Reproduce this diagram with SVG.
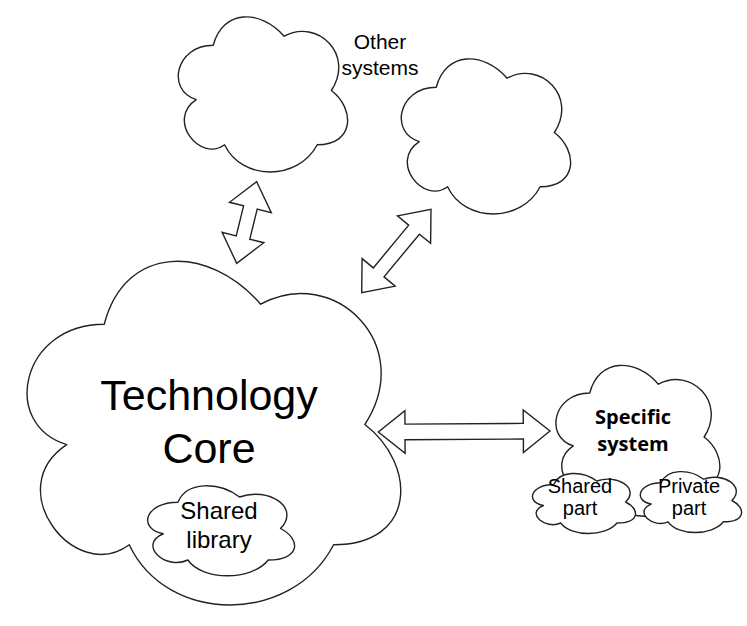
<svg xmlns="http://www.w3.org/2000/svg" width="747" height="626" viewBox="0 0 747 626">
<style>
.cloud{fill:#fff;stroke:#222;stroke-width:1.4;stroke-linejoin:round}
.arrow{fill:#fff;stroke:#222;stroke-width:1.4;stroke-linejoin:miter}
.t{font-family:"Liberation Sans",Arial,sans-serif;fill:#000;text-anchor:middle}
.b{font-family:"Open Sans","Noto Sans",sans-serif;font-weight:bold;fill:#000;text-anchor:middle}
</style>
<rect width="747" height="626" fill="#fff"/>
<g id="core">
<path class="cloud" d="M104.25 324.25 C20.85 324.25 0 424.5 66.72 444.55 C0 488.66 75.06 584.9 129.27 544.8 C166.8 625 291.9 625 333.6 544.8 C417 544.8 417 464.6 364.88 424.5 C417 344.3 333.6 264.1 260.63 304.2 C208.5 244.05 125.1 244.05 104.25 324.25 Z"/>
<text class="t" x="209" y="410" font-size="43">Technology</text>
<text class="t" x="209" y="463" font-size="43">Core</text>
</g>
<g id="shared-library">
<path class="cloud" d="M178 502.25 C145.2 502.25 137 528.5 163.24 533.75 C137 545.3 166.52 570.5 187.84 560 C202.6 581 251.8 581 268.2 560 C301 560 301 539 280.5 528.5 C301 507.5 268.2 486.5 239.5 497 C219 481.25 186.2 481.25 178 502.25 Z"/>
<text class="t" x="219" y="519" font-size="24">Shared</text>
<text class="t" x="219" y="548" font-size="24">library</text>
</g>
<g id="other-system-1">
<path class="cloud" d="M213.25 45.25 C175.45 45.25 166 90.5 196.24 99.55 C166 119.46 200.02 162.9 224.59 144.8 C241.6 181 298.3 181 317.2 144.8 C355 144.8 355 108.6 331.38 90.5 C355 54.3 317.2 18.1 284.13 36.2 C260.5 9.05 222.7 9.05 213.25 45.25 Z"/>
</g>
<g id="other-system-2">
<path class="cloud" d="M436.25 87.25 C398.45 87.25 389 132.5 419.24 141.55 C389 161.46 423.02 204.9 447.59 186.8 C464.6 223 521.3 223 540.2 186.8 C578 186.8 578 150.6 554.38 132.5 C578 96.3 540.2 60.1 507.13 78.2 C483.5 51.05 445.7 51.05 436.25 87.25 Z"/>
</g>
<g id="other-systems-label">
<text class="t" x="380" y="49" font-size="21">Other</text>
<text class="t" x="380" y="75" font-size="21">systems</text>
</g>
<g id="specific-system">
<path class="cloud" d="M589.75 393 C553.15 393 544 437 573.28 445.8 C544 465.16 576.94 507.4 600.73 489.8 C617.2 525 672.1 525 690.4 489.8 C727 489.8 727 454.6 704.13 437 C727 401.8 690.4 366.6 658.38 384.2 C635.5 357.8 598.9 357.8 589.75 393 Z"/>
<text class="b" x="633" y="424" font-size="20">Specific</text>
<text class="b" x="633" y="451" font-size="20">system</text>
</g>
<g id="shared-part">
<path class="cloud" d="M553.75 484.5 C530.75 484.5 525 502 543.4 505.5 C525 513.2 545.7 530 560.65 523 C571 537 605.5 537 617 523 C640 523 640 509 625.63 502 C640 488 617 474 596.88 481 C582.5 470.5 559.5 470.5 553.75 484.5 Z"/>
<text class="t" x="580" y="493" font-size="20">Shared</text>
<text class="t" x="580" y="515" font-size="20">part</text>
</g>
<g id="private-part">
<path class="cloud" d="M663.25 482.75 C640.65 482.75 635 500.5 653.08 504.05 C635 511.86 655.34 528.9 670.03 521.8 C680.2 536 714.1 536 725.4 521.8 C748 521.8 748 507.6 733.88 500.5 C748 486.3 725.4 472.1 705.63 479.2 C691.5 468.55 668.9 468.55 663.25 482.75 Z" transform="translate(-2 0)"/>
<text class="t" x="689" y="493" font-size="20">Private</text>
<text class="t" x="689" y="515" font-size="20">part</text>
</g>
<g id="connectors">
<polygon class="arrow" points="256.7,181.7 271.3,212.6 257.2,209.1 249.8,239.2 263.9,242.7 236.7,263.3 222.1,232.4 236.2,235.9 243.6,205.8 229.5,202.3"/>
<polygon class="arrow" points="431,209.3 430.6,243.4 419.4,234.2 384,276.8 395.2,286.1 361.7,292.7 362.1,258.6 373.3,267.9 408.7,225.2 397.5,215.9"/>
<polygon class="arrow" points="550,431 523.4,452.5 523.4,439 405,439.7 405.1,453.2 378.3,432 404.9,410.6 405,424.1 523.3,423.4 523.2,409.9"/>
</g>
</svg>
